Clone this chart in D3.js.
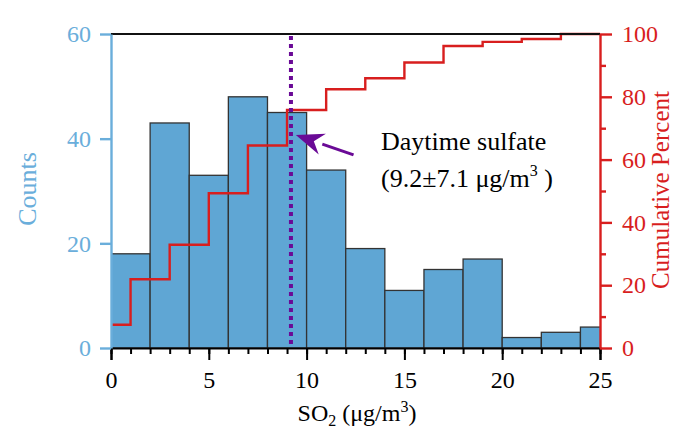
<!DOCTYPE html>
<html><head><meta charset="utf-8">
<script src="https://cdn.jsdelivr.net/npm/d3@7"></script>
<style>body{margin:0;background:#fff}svg{display:block}</style>
</head><body>
<svg id="c" width="676" height="428"></svg>
<script>
const binStart = [0,2,4,6,8,10,12,14,16,18,20,22,24];
const binWidth = 2;
const counts = [18,43,33,48,45,34,19,11,15,17,2,3,4];
const cumX = [0,1,3,5,7,9,11,13,15,17,19,21,23,25];
const cumPct = [7.4,21.9,32.9,49.3,64.5,75.8,82.4,85.9,90.9,96.2,97.5,98.4,100,100];
const xTicks = [0,5,10,15,20,25];
const yTicks = [0,20,40,60];
const y2Ticks = [0,20,40,60,80,100];
const meanVal = 9.2;
const arrowFrom = [12.4, 36.9], arrowTo = [9.45, 40.7];

const svg = d3.select("#c");
const L=111,R=600,T=34,B=348;
const blue="#6aaedb", red="#d81e1e", purple="#6a0a96";
const font="'Liberation Serif','Times New Roman',serif";
const x=d3.scaleLinear().domain([0,25]).range([L,R]);
const y=d3.scaleLinear().domain([0,60]).range([B,T]);
const y2=d3.scaleLinear().domain([0,100]).range([B,T]);

svg.append("defs").append("clipPath").attr("id","pc").append("rect")
 .attr("x",L).attr("y",T-2).attr("width",R-L).attr("height",B-T+2);

const g=svg.append("g").attr("clip-path","url(#pc)");
g.selectAll("rect.bar").data(counts).join("rect").attr("class","bar")
 .attr("x",(d,i)=>x(binStart[i])).attr("width",(d,i)=>x(binStart[i]+binWidth)-x(binStart[i]))
 .attr("y",d=>y(d)).attr("height",d=>B-y(d))
 .attr("fill","#5fa6d4").attr("stroke","#333").attr("stroke-width",1.3);

// top line
svg.append("line").attr("x1",L).attr("x2",R).attr("y1",T).attr("y2",T).attr("stroke","#111").attr("stroke-width",2.2);

// cumulative
const line=d3.line().x(d=>x(d[0])).y(d=>y2(d[1])).curve(d3.curveStepAfter);
g.append("path").datum(cumX.map((v,i)=>[v,cumPct[i]])).attr("d",line)
 .attr("fill","none").attr("stroke",red).attr("stroke-width",2.4);

// mean dotted line
svg.append("line").attr("x1",x(meanVal)).attr("x2",x(meanVal)).attr("y1",T+2).attr("y2",B)
 .attr("stroke",purple).attr("stroke-width",4).attr("stroke-dasharray","4,4");

// axes
const ax=svg.append("g").attr("transform",`translate(0,${B})`)
 .call(d3.axisBottom(x).tickValues(d3.range(0,26,1)).tickSize(6).tickFormat(""));
ax.selectAll("line").attr("stroke","#000").attr("stroke-width",2);
ax.select(".domain").remove();
const ax2=svg.append("g").attr("transform",`translate(0,${B})`)
 .call(d3.axisBottom(x).tickValues(xTicks).tickSize(12).tickPadding(11));
ax2.select(".domain").attr("stroke","#000").attr("stroke-width",2);
ax2.selectAll("line").attr("stroke","#000").attr("stroke-width",2);
ax2.selectAll("text").attr("font-family",font).attr("font-size",24).attr("fill","#000");

const ay=svg.append("g").attr("transform",`translate(${L},0)`)
 .call(d3.axisLeft(y).tickValues(yTicks).tickSize(11).tickPadding(9).tickSizeOuter(0));
ay.select(".domain").attr("stroke",blue).attr("stroke-width",2.4);
ay.selectAll("line").attr("stroke",blue).attr("stroke-width",2.4);
ay.selectAll("text").attr("font-family",font).attr("font-size",24).attr("fill",blue);

const ayr=svg.append("g").attr("transform",`translate(${R},0)`)
 .call(d3.axisRight(y2).tickValues(d3.range(10,100,20)).tickSize(6).tickFormat(""));
ayr.select(".domain").remove();
ayr.selectAll("line").attr("stroke",red).attr("stroke-width",2.4);
const ayr2=svg.append("g").attr("transform",`translate(${R},0)`)
 .call(d3.axisRight(y2).tickValues(y2Ticks).tickSize(12).tickPadding(10).tickSizeOuter(0));
ayr2.select(".domain").attr("stroke",red).attr("stroke-width",2.4);
ayr2.selectAll("line").attr("stroke",red).attr("stroke-width",2.4);
ayr2.selectAll("text").attr("font-family",font).attr("font-size",24).attr("fill",red);

// axis titles
svg.append("text").attr("transform","translate(36,189) rotate(-90)").attr("text-anchor","middle")
 .attr("font-family",font).attr("font-size",26).attr("fill",blue).text("Counts");
svg.append("text").attr("transform","translate(669,190) rotate(-90)").attr("text-anchor","middle")
 .attr("font-family",font).attr("font-size",25).attr("fill",red).text("Cumulative Percent");
const xt=svg.append("text").attr("x",357).attr("y",421).attr("text-anchor","middle")
 .attr("font-family",font).attr("font-size",24).attr("fill","#000");
xt.append("tspan").text("SO");
xt.append("tspan").attr("font-size",16).attr("dy",5).text("2");
xt.append("tspan").attr("dy",-5).text(" (μg/m");
xt.append("tspan").attr("font-size",16).attr("dy",-9).text("3");
xt.append("tspan").attr("dy",9).text(")");

// annotation
svg.append("text").attr("x",381).attr("y",150).attr("font-family",font).attr("font-size",26).attr("fill","#000").text("Daytime sulfate");
const a2=svg.append("text").attr("x",381).attr("y",187).attr("font-family",font).attr("font-size",26).attr("fill","#000");
a2.append("tspan").text("(9.2±7.1 μg/m");
a2.append("tspan").attr("font-size",16).attr("dy",-11).text("3");
a2.append("tspan").attr("dy",11).text(" )");

// arrow
const fx=x(arrowFrom[0]),fy=y(arrowFrom[1]),tx=x(arrowTo[0]),ty=y(arrowTo[1]);
const ang=Math.atan2(ty-fy,tx-fx);
const hl=28,hw=11;
const bx=tx-hl*Math.cos(ang),by=ty-hl*Math.sin(ang);
svg.append("line").attr("x1",fx).attr("y1",fy).attr("x2",bx).attr("y2",by).attr("stroke",purple).attr("stroke-width",3);
svg.append("path").attr("fill",purple).attr("d",
 `M${tx},${ty}L${bx+hw*Math.sin(ang)},${by-hw*Math.cos(ang)}L${bx+9*Math.cos(ang)},${by+9*Math.sin(ang)}L${bx-hw*Math.sin(ang)},${by+hw*Math.cos(ang)}Z`);
</script>
</body></html>
